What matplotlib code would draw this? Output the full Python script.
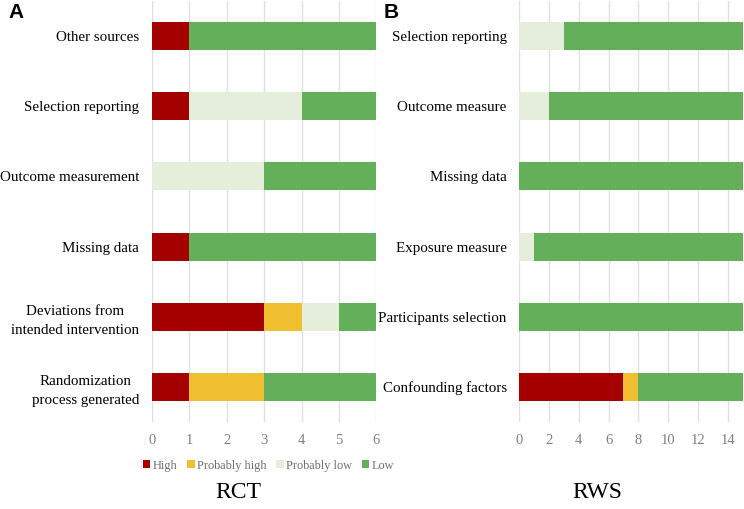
import numpy as np
import matplotlib.pyplot as plt

plt.rcParams['font.family'] = ['Liberation Serif', 'DejaVu Serif']

levels = ['High', 'Probably high', 'Probably low', 'Low']
colors = ['#A50000', '#F0BF30', '#E5EEDB', '#63AF5A']

# panel A (bottom to top)
rct_domains = ['Randomization\nprocess generated', 'Deviations from\nintended intervention',
               'Missing data', 'Outcome measurement', 'Selection reporting', 'Other sources']
rct_high = [1, 3, 1, 0, 1, 1]
rct_phigh = [2, 1, 0, 0, 0, 0]
rct_plow = [0, 1, 0, 3, 3, 0]
rct_low = [3, 1, 5, 3, 2, 5]

# panel B (bottom to top)
rws_domains = ['Confounding factors', 'Participants selection', 'Exposure measure',
               'Missing data', 'Outcome measure', 'Selection reporting']
rws_high = [7, 0, 0, 0, 0, 0]
rws_phigh = [1, 0, 0, 0, 0, 0]
rws_plow = [0, 0, 1, 0, 2, 3]
rws_low = [7, 15, 14, 15, 13, 12]

fig = plt.figure(figsize=(7.44, 5.09), dpi=100)
axA = fig.add_axes([0.204, 0.171, 0.302, 0.827])
axB = fig.add_axes([0.698, 0.171, 0.300, 0.827])


def draw(ax, domains, series, xmax, ticks):
    y = np.arange(len(domains))
    left = np.zeros(len(domains))
    bars = []
    for vals, c, lab in zip(series, colors, levels):
        b = ax.barh(y, vals, left=left, height=0.4, color=c, label=lab, zorder=3)
        bars.append(b)
        left += np.array(vals)
    ax.set_yticks(y)
    ax.set_yticklabels(domains, fontsize=10.8, multialignment='center', linespacing=1.55)
    ax.set_xlim(0, xmax)
    ax.set_ylim(-0.5, len(domains) - 0.5)
    ax.set_xticks(ticks)
    ax.tick_params(axis='x', colors='#808080', labelsize=10.5, length=0, pad=9)
    ax.tick_params(axis='y', length=0, pad=9)
    ax.grid(axis='x', color='#E0E0E0', linewidth=1, zorder=0)
    for s in ax.spines.values():
        s.set_visible(False)
    return bars


bars = draw(axA, rct_domains, [rct_high, rct_phigh, rct_plow, rct_low], 6, range(0, 7))
draw(axB, rws_domains, [rws_high, rws_phigh, rws_plow, rws_low], 15, range(0, 15, 2))

leg = axA.legend(bars, levels, loc='upper center', bbox_to_anchor=(0.52, -0.078), ncol=4,
                 frameon=False, fontsize=8.8, handlelength=0.6, handleheight=0.6,
                 handletextpad=0.2, columnspacing=0.8, borderaxespad=0)
for t in leg.get_texts():
    t.set_color('#707070')

fig.text(238 / 744, 1 - 493 / 509, 'RCT', fontsize=17, ha='center', va='center')
fig.text(597 / 744, 1 - 493 / 509, 'RWS', fontsize=17, ha='center', va='center')
fig.text(8 / 744, 1 - 12 / 509, 'A', fontsize=15, fontweight='bold', family='Liberation Sans',
         ha='left', va='center')
fig.text(384 / 744, 1 - 12 / 509, 'B', fontsize=15, fontweight='bold', family='Liberation Sans',
         ha='left', va='center')

fig.savefig('out.png', dpi=100)
